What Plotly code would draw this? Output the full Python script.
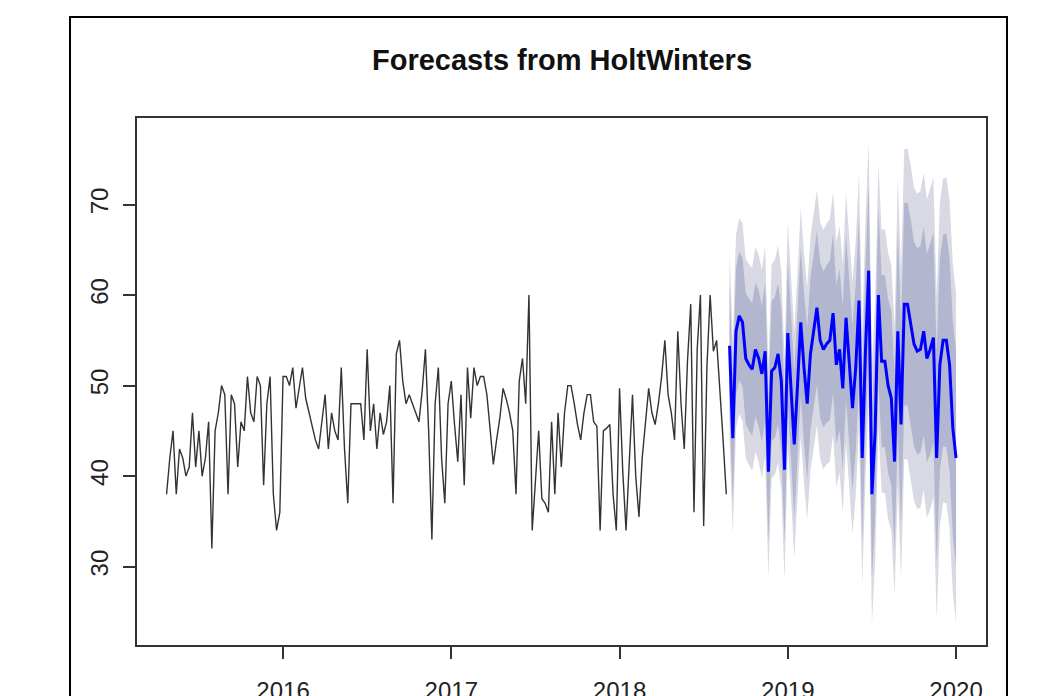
import plotly.graph_objects as go

# ---- data (weekly series, frequency 52) ----
start_year = 2015
start_week = 17
freq = 52

actual = [38, 42, 45, 38, 43, 42, 40, 41, 47, 41, 45, 40, 42, 46, 32, 45, 47, 50, 49, 38,
          49, 48, 41, 46, 45, 51, 47, 46, 51, 50, 39, 48, 51, 38, 34, 36, 51, 51, 50, 52,
          47.5, 50, 52, 48.6, 47, 45.5, 44, 43, 46, 49, 43, 47, 45, 44, 52, 43, 37, 48, 48, 48,
          48, 44, 54, 45, 48, 43, 47, 44.6, 46, 50, 37, 53.5, 55, 50.5, 48, 49, 48, 47, 46, 49.4,
          54, 45, 33, 48, 52, 42, 37, 48, 50.5, 45.7, 41.6, 49, 39, 52, 46.4, 52, 50, 51, 51, 49,
          45, 41.3, 44, 46.4, 49.7, 48.5, 47, 45, 38, 50.5, 53, 48, 60, 34, 39.4, 45, 37.5, 37, 36, 46,
          38, 47, 41, 47, 50, 50, 48, 45.7, 44, 47, 49, 49, 46, 45.5, 34, 45, 45.3, 45.7, 38, 34,
          49.7, 40.5, 34, 42, 49, 40, 35.5, 42, 46, 49.7, 47, 45.7, 48, 51, 55, 49, 47, 44, 56, 48,
          43, 52.7, 59, 36, 54, 60, 34.5, 52, 60, 53.8, 55, 50, 44, 38]

forecast = [54.4, 44.2, 56, 57.7, 57, 53, 52.3, 51.8, 54, 53, 51.3, 53.8, 40.5, 51.6, 52, 53.5,
            50.5, 40.7, 55.8, 50, 43.5, 50, 57, 52, 48, 53.5, 56, 58.6, 55, 54, 54.6, 55, 58,
            52.3, 54, 49.7, 57.5, 52, 47.5, 52, 59.4, 42, 53.8, 62.7, 38, 45, 60, 52.7, 52.7, 50,
            48.6, 41.6, 56, 45.7, 59, 59, 57, 54.6, 53.8, 54, 56, 53, 54, 55.3, 42, 52.3, 55, 55,
            52.3, 45.3, 42]

half80 = [6.9, 6.9, 7.0, 7.1, 7.1, 7.2, 7.3, 7.3, 7.4, 7.5,
          7.5, 7.6, 7.7, 7.7, 7.8, 7.8, 7.9, 8.0, 8.0, 8.1,
          8.2, 8.2, 8.2, 8.3, 8.4, 8.4, 8.5, 8.5, 8.6, 8.6,
          8.7, 8.8, 8.8, 8.8, 8.9, 9.0, 9.0, 9.0, 9.1, 9.2,
          9.2, 9.2, 9.3, 9.3, 9.4, 9.4, 9.5, 9.5, 9.5, 9.6, 9.6, 9.7,
          11.1, 11.2, 11.2, 11.2, 11.3, 11.3, 11.4, 11.4, 11.5, 11.5,
          11.6, 11.6, 11.6, 11.7, 11.7, 11.8, 11.8, 11.8, 11.9]

half95 = [10.5, 10.6, 10.7, 10.8, 10.9, 11.0, 11.1, 11.2, 11.3, 11.4,
          11.5, 11.6, 11.7, 11.8, 11.9, 12.0, 12.1, 12.2, 12.3, 12.4,
          12.5, 12.5, 12.6, 12.7, 12.8, 12.9, 13.0, 13.0, 13.1, 13.2,
          13.3, 13.4, 13.4, 13.5, 13.6, 13.7, 13.8, 13.8, 13.9, 14.0,
          14.1, 14.1, 14.2, 14.3, 14.3, 14.4, 14.5, 14.5, 14.6, 14.7, 14.7, 14.8,
          17.0, 17.1, 17.1, 17.2, 17.3, 17.3, 17.4, 17.5, 17.5, 17.6,
          17.7, 17.7, 17.8, 17.9, 17.9, 18.0, 18.1, 18.1, 18.2]

x_ticks = [2016, 2017, 2018, 2019, 2020]
y_ticks = [30, 40, 50, 60, 70]
title_text = "Forecasts from HoltWinters"

# ---- time index ----
t_act = [start_year + (start_week - 1 + i) / freq for i in range(len(actual))]
n0 = len(actual)
t_fc = [start_year + (start_week - 1 + n0 + i) / freq for i in range(len(forecast))]

lo95 = [f - h for f, h in zip(forecast, half95)]
hi95 = [f + h for f, h in zip(forecast, half95)]
lo80 = [f - h for f, h in zip(forecast, half80)]
hi80 = [f + h for f, h in zip(forecast, half80)]

fig = go.Figure()
fig.add_trace(go.Scatter(x=t_fc + t_fc[::-1], y=hi95 + lo95[::-1], fill="toself",
                         fillcolor="#D8D9E2", line=dict(width=0), mode="lines",
                         hoverinfo="skip", showlegend=False))
fig.add_trace(go.Scatter(x=t_fc + t_fc[::-1], y=hi80 + lo80[::-1], fill="toself",
                         fillcolor="#B2B6CF", line=dict(width=0), mode="lines",
                         hoverinfo="skip", showlegend=False))
fig.add_trace(go.Scatter(x=t_act, y=actual, mode="lines",
                         line=dict(color="#333333", width=1.4), showlegend=False))
fig.add_trace(go.Scatter(x=t_fc, y=forecast, mode="lines",
                         line=dict(color="#0000FF", width=3), showlegend=False))

W, H = 1052, 696
OFF = 8          # page offset of the figure in the window
H_EFF = 688      # rendered height


def fx(X):
    return (X - OFF) / W


def fy(Y):
    return 1 - (Y - OFF) / H_EFF


px_l, px_r, px_t, px_b = 137, 986, 118, 643

fig.update_layout(
    width=W, height=H,
    margin=dict(l=0, r=0, t=0, b=0),
    paper_bgcolor="white", plot_bgcolor="white",
    font=dict(family="Liberation Sans, Arial, sans-serif", color="#222222"),
    xaxis=dict(domain=[fx(px_l), fx(px_r)], range=[2015.132, 2020.178],
               tickvals=x_ticks, ticktext=[str(v) for v in x_ticks],
               ticks="outside", ticklen=12, tickwidth=1.5, tickcolor="#333333",
               showgrid=False, zeroline=False, showline=True, linecolor="#333333",
               linewidth=1.5, mirror=True, tickfont=dict(size=24),
               ticklabelstandoff=12),
    yaxis=dict(domain=[fy(px_b), fy(px_t)], range=[21.36, 79.53],
               tickvals=y_ticks, ticktext=[str(v) for v in y_ticks],
               ticks="outside", ticklen=12, tickwidth=1.5, tickcolor="#333333",
               showgrid=False, zeroline=False, showline=True, linecolor="#333333",
               linewidth=1.5, mirror=True, tickfont=dict(size=24), tickangle=-90,
               ticklabelstandoff=6),
    annotations=[dict(text="<b>" + title_text + "</b>", xref="paper", yref="paper",
                      x=fx((px_l + px_r) / 2), y=fy(60), xanchor="center",
                      yanchor="middle", showarrow=False,
                      font=dict(size=29, color="#111111",
                                family="Liberation Sans, Arial, sans-serif"))],
    shapes=[dict(type="rect", xref="paper", yref="paper",
                 x0=fx(70), x1=fx(1007), y0=-0.05, y1=fy(17),
                 line=dict(color="black", width=2))],
)

fig.write_html("out.html")
